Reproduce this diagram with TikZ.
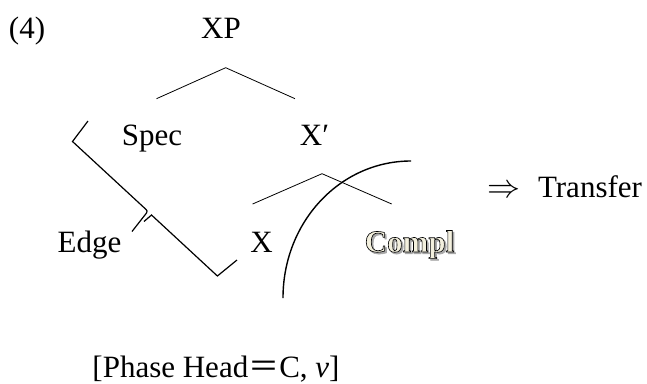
\documentclass[tikz,border=0pt]{standalone}
\usepackage{fontspec}
\setmainfont{Liberation Serif}
\newfontfamily\cjk{Noto Sans CJK SC}
\newfontface\complfont[FakeBold=2]{Liberation Serif Bold}
\definecolor{cream}{HTML}{F3F0DE}
\definecolor{shade}{HTML}{A8A8A8}
\newcommand{\outlinetext}[1]{%
  \rlap{\raisebox{-1.8pt}{\hspace{1.8pt}{\complfont\color{shade}#1}}}%
  {\complfont\color{cream}\special{pdf:literal 0 G}#1}}
\begin{document}
\begin{tikzpicture}[x=1pt,y=-1pt,
  font=\fontsize{31}{36}\selectfont,
  lbl/.style={anchor=base, inner sep=0pt},
  branch/.style={line width=0.8pt},
  bracketline/.style={line width=1.2pt, line join=miter},
  phaseline/.style={line width=1.4pt}]
\useasboundingbox (0,0) rectangle (647,383);

% labels
\node[lbl] (num) at (27,38) {(4)};
\node[lbl] (xp) at (221,38) {XP};
\node[lbl] (spec) at (152,145) {Spec};
\node[lbl] (xbar) at (314.5,145) {X′};
\node[lbl] (x) at (261.5,252) {X};
\node[lbl] (edge) at (89.5,252) {Edge};
\node[lbl] (compl) at (409.5,252) {\outlinetext{Compl}};
\node[lbl] (arrow) at (504,197) {\fontsize{10}{12}\selectfont\scalebox{3.3}{$\Rightarrow$}};
\node[lbl] (transfer) at (590,197) {Transfer};
\node[lbl] (phase) at (216,377) {[Phase Head{\cjk ＝}C, \textit{v}]};

% branch points
\coordinate (xpTop) at (225.7,67.7);
\coordinate (xpL) at (156.5,98.7);
\coordinate (xpR) at (295,98.7);
\coordinate (xbTop) at (322,173.7);
\coordinate (xbL) at (252.6,204);
\coordinate (xbR) at (391.7,204);

\draw[branch] (xpL) -- (xpTop) -- (xpR);
\draw[branch] (xbL) -- (xbTop) -- (xbR);

% phase boundary arc
\coordinate (arcTop) at (411,161);
\coordinate (arcBot) at (283,298);
\draw[phaseline] (arcTop) .. controls (340,161) and (283,222) .. (arcBot);

% edge bracket
\coordinate (brA) at (88,121);
\coordinate (brB) at (72.5,141.5);
\coordinate (brC) at (145,208.5);
\coordinate (brTip) at (132,231.5);
\coordinate (brD) at (144,221.5);
\coordinate (brE) at (151.5,215);
\coordinate (brF) at (217.4,276);
\coordinate (brG) at (237,260);
\draw[bracketline] (brA) -- (brB) -- (brC) .. controls (147.5,211) .. (146.5,213) -- (brTip);
\draw[bracketline] (brD) -- (brE) -- (brF) -- (brG);
\end{tikzpicture}
\end{document}
